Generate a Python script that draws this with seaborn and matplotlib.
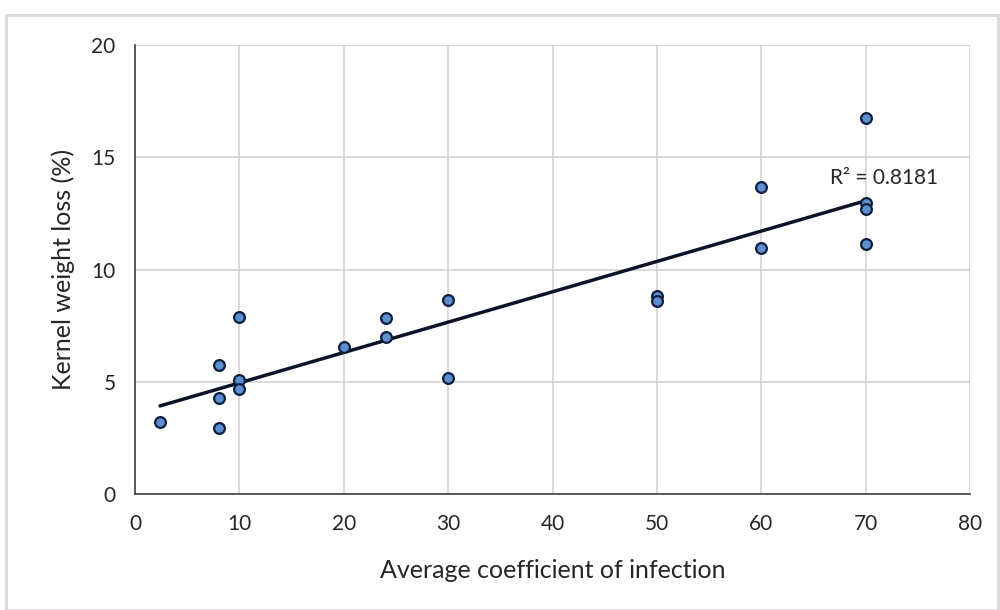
import numpy as np
import pandas as pd
import matplotlib.pyplot as plt
import seaborn as sns
from matplotlib.patches import Rectangle

# values
infection = [2.4, 8, 8, 8, 10, 10, 10, 20, 24, 24, 30, 30, 50, 50, 60, 60, 70, 70, 70, 70]
weight_loss = [3.2, 5.75, 4.28, 2.94, 7.88, 5.08, 4.68, 6.55, 7.84, 7.0, 8.64, 5.17,
               8.82, 8.6, 13.67, 10.96, 16.75, 12.96, 12.7, 11.14]
x_ticks = [0, 10, 20, 30, 40, 50, 60, 70, 80]
y_ticks = [0, 5, 10, 15, 20]

df = pd.DataFrame({'infection': infection, 'loss': weight_loss})

sns.set_style("whitegrid")
plt.rcParams['font.family'] = ['Lato', 'DejaVu Sans']

fig = plt.figure(figsize=(10, 6.1), dpi=100)
ax = fig.add_axes([0.135, 0.19, 0.835, 0.736])

sns.regplot(data=df, x='infection', y='loss', ax=ax, ci=None,
            scatter_kws={'s': 60, 'color': '#5b8fd0', 'edgecolor': '#0d1f3c',
                         'linewidths': 1.6, 'alpha': 1, 'zorder': 3},
            line_kws={'color': '#0a1428', 'lw': 2.5, 'zorder': 2})

ax.text(66.6, 14.07, 'R² = 0.8181', fontsize=15, color='#262626', va='center')

ax.set_xlim(0, 80)
ax.set_ylim(0, 20)
ax.set_xticks(x_ticks)
ax.set_yticks(y_ticks)
ax.grid(True, color='#d0d0d0', lw=1.1)
for s in ['top', 'right']:
    ax.spines[s].set_visible(False)
for s in ['left', 'bottom']:
    ax.spines[s].set_color('#404040')
    ax.spines[s].set_linewidth(1.2)
ax.tick_params(axis='both', length=6, width=1.2, color='#404040', direction='out',
               labelsize=15, labelcolor='#262626', pad=8)
ax.set_xlabel('Average coefficient of infection', fontsize=18, color='#262626', labelpad=18)
ax.set_ylabel('Kernel weight loss (%)', fontsize=18, color='#262626', labelpad=12)

# chart area border
fig.patches.append(Rectangle((0.006, 0.0), 0.992, 0.975, transform=fig.transFigure,
                             fill=False, edgecolor='#d9d9d9', lw=2))

fig.savefig('out.png', dpi=100)
